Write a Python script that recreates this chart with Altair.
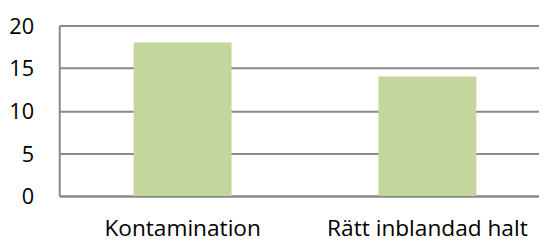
import altair as alt
import pandas as pd

categories = ["Kontamination", "Rätt inblandad halt"]
values = [18, 14]
y_ticks = [0, 5, 10, 15, 20]

df = pd.DataFrame({"kategori": categories, "antal": values})

grid_color = "#898989"
font = "Open Sans"

chart = alt.Chart(df).mark_bar(color="#C3D69B").encode(
    x=alt.X(
        "kategori:N",
        sort=categories,
        title=None,
        scale=alt.Scale(paddingInner=0.6, paddingOuter=0.28, align=0.543),
        axis=alt.Axis(
            labelAngle=0,
            labelFont=font,
            labelFontSize=23,
            labelColor="#000000",
            labelPadding=22,
            labelLimit=0,
            ticks=False,
            domainColor=grid_color,
            domainWidth=2,
            grid=False,
        ),
    ),
    y=alt.Y(
        "antal:Q",
        title=None,
        scale=alt.Scale(domain=[0, 20], nice=False),
        axis=alt.Axis(
            values=y_ticks,
            labelFont=font,
            labelFontSize=22,
            labelColor="#000000",
            labelPadding=26,
            labelOffset=1,
            ticks=False,
            domainColor=grid_color,
            domainWidth=2,
            gridColor=grid_color,
            gridWidth=2,
            gridOpacity=1,
        ),
    ),
).properties(
    width=487,
    height=173,
    autosize=alt.AutoSizeParams(type="none"),
    padding={"left": 52, "top": 16, "right": 0, "bottom": 44},
).configure_view(stroke=None).configure(background="#ffffff")

chart.save("out.html", embed_options={"renderer": "svg", "actions": False})
